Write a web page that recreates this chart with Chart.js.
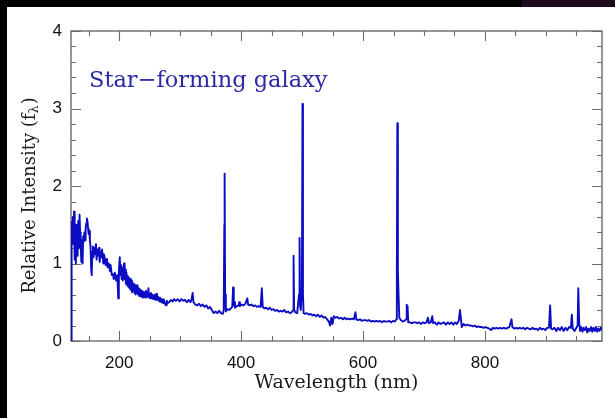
<!DOCTYPE html>
<html>
<head>
<meta charset="utf-8">
<script src="https://cdn.jsdelivr.net/npm/chart.js@4/dist/chart.umd.min.js"></script>
<style>
  html, body { margin: 0; padding: 0; background: #fff; }
  #wrap { width: 615px; height: 418px; }
</style>
</head>
<body>
<div id="wrap"><canvas id="c" width="615" height="418"></canvas></div>
<script>
// Spectrum of a star-forming galaxy: wavelength (nm) and relative flux f_lambda
const wavelength = [
  121.5, 122, 123, 124, 125, 126, 127, 128, 129, 130, 131, 132, 133, 134, 135, 136, 137, 138, 139, 140,
  141, 142, 143, 144, 145, 146, 147, 148, 149, 150, 151, 152, 153, 154, 155, 156, 157, 158, 159, 160,
  162, 163, 164, 166, 167, 168, 170, 171, 172, 174, 175, 177, 178, 180, 181, 183, 185, 186, 188, 190,
  191, 193, 195,
  197, 198.5, 199.5, 201, 202, 203, 204, 205, 206, 207,
  208, 209, 210, 211, 212, 213, 214, 215, 216, 217,
  218, 219, 220, 221, 222, 223, 224, 225, 226, 227,
  228, 229, 230, 231, 232, 233, 234, 235, 236, 237,
  238, 239, 240, 241, 242, 243, 244, 245, 246, 247,
  248, 249, 250, 251, 252, 253, 254, 256, 257, 258,
  259, 260, 262, 263, 264, 266, 267, 269, 270, 272,
  273, 275, 277, 278, 280,
  282, 285, 288, 290, 293, 296, 299, 302, 305, 308,
  311, 314, 317, 319, 320.5, 322, 325, 328, 331, 334, 337, 340, 343, 346, 349, 352, 355, 358, 361, 364,
  367, 370, 371.5, 372.5, 373, 373.8, 375, 377, 380, 383, 385.5, 386.9, 388, 389, 390, 393, 396, 397, 398, 401,
  404, 407, 410.2, 411.5, 414, 417, 420, 423, 426, 429, 432, 434, 435.5, 438, 441, 444, 447, 450, 453, 456,
  459, 462, 465, 468, 471, 474, 477, 480, 483, 485.3, 486.1, 487, 489, 492, 495, 495.9, 496.8, 498, 499.8, 500.7,
  501.5, 502.5, 505, 508, 511, 514, 517, 520, 523, 526, 529, 532, 535, 538, 541, 544, 546, 548, 550, 552,
  555, 558, 561, 564, 567, 570, 573, 576, 579, 582, 585, 587.6, 589, 592, 595, 598, 601, 604, 607, 610,
  613, 616, 619, 622, 625, 628, 631, 634, 637, 640, 643, 646, 649, 652, 654.8, 655.5, 656.3, 657.2, 658.4, 659.5,
  662, 665, 668, 670.8, 671.7, 672.6, 673.1, 674.2, 677, 680, 683, 686, 689, 692, 695, 698, 701, 704, 706.5, 708,
  711, 713.6, 715, 718, 721, 724, 727, 730, 733, 736, 739, 742, 745, 748, 751, 754, 757, 759, 760.5, 762,
  765, 768, 771, 774, 777, 780, 783, 786, 789, 792, 795, 798, 801, 804, 807, 810, 813, 816, 819, 822,
  825, 828, 831, 834, 837, 840, 843.6, 845, 848, 851, 854, 857, 860, 863, 866, 869, 872, 875, 878, 881,
  884, 887, 890, 893, 896, 899, 902, 905, 906.9, 908.5, 911, 914, 917, 920, 923, 926, 929, 932, 935, 938,
  941, 942.5, 944, 947, 950, 952, 953.1, 954.5, 956, 958, 960, 962, 964, 966, 968, 970, 972, 974, 976, 978,
  980, 982, 984, 986, 988, 990, 992
];
const flux = [
  0.00, 1.54, 1.30, 1.60, 1.25, 1.67, 1.05, 1.45, 1.00, 1.50, 1.10, 1.35, 1.55, 1.20, 1.63, 1.40, 1.20, 1.02, 1.30, 1.00,
  1.35, 1.28, 1.40, 1.30, 1.45, 1.52, 1.58, 1.55, 1.45, 1.38, 1.42, 1.30, 1.22, 0.95, 0.85, 1.15, 1.22, 1.08, 1.20, 1.12,
  1.25, 1.05, 1.18, 1.10, 1.20, 1.02, 1.15, 1.08, 1.18, 1.00, 1.12, 1.05, 0.98, 1.06, 0.95, 1.00, 0.90, 0.98, 0.85, 0.86,
  0.80, 0.88, 0.78,
  0.85, 0.55, 0.90, 1.08, 0.85, 0.98, 0.80, 0.94, 0.78, 0.95,
  1.00, 0.80, 0.92, 0.74, 0.88, 0.72, 0.84, 0.70, 0.82, 0.68,
  0.80, 0.66, 0.78, 0.63, 0.75, 0.65, 0.74, 0.62, 0.72, 0.60,
  0.70, 0.62, 0.72, 0.60, 0.68, 0.58, 0.67, 0.58, 0.65, 0.57,
  0.64, 0.56, 0.62, 0.57, 0.63, 0.56, 0.65, 0.58, 0.62, 0.57,
  0.68, 0.56, 0.61, 0.55, 0.62, 0.55, 0.60, 0.54, 0.59, 0.54,
  0.60, 0.53, 0.61, 0.53, 0.57, 0.51, 0.56, 0.50, 0.54, 0.49,
  0.54, 0.48, 0.46, 0.52, 0.49,
  0.50, 0.53, 0.51, 0.54, 0.52, 0.54, 0.51, 0.54, 0.52, 0.53,
  0.50, 0.53, 0.50, 0.54, 0.62, 0.50, 0.47, 0.46, 0.48, 0.45, 0.47, 0.44, 0.46, 0.42, 0.44, 0.40, 0.36, 0.38, 0.36, 0.39,
  0.36, 0.35, 0.40, 1.50, 2.16, 0.60, 0.38, 0.41, 0.40, 0.42, 0.44, 0.69, 0.46, 0.50, 0.43, 0.45, 0.46, 0.50, 0.45, 0.47,
  0.46, 0.48, 0.55, 0.47, 0.46, 0.47, 0.45, 0.46, 0.44, 0.45, 0.44, 0.68, 0.44, 0.42, 0.43, 0.41, 0.43, 0.40, 0.41, 0.39,
  0.40, 0.38, 0.39, 0.38, 0.40, 0.37, 0.38, 0.36, 0.37, 0.40, 1.10, 0.40, 0.37, 0.36, 0.60, 1.33, 0.45, 0.40, 0.70, 3.06,
  0.60, 0.36, 0.35, 0.36, 0.34, 0.35, 0.33, 0.34, 0.32, 0.34, 0.31, 0.33, 0.30, 0.31, 0.28, 0.25, 0.20, 0.30, 0.22, 0.32,
  0.30, 0.31, 0.29, 0.30, 0.28, 0.30, 0.28, 0.29, 0.28, 0.29, 0.28, 0.37, 0.28, 0.27, 0.28, 0.26, 0.27, 0.27, 0.26, 0.27,
  0.25, 0.26, 0.25, 0.26, 0.25, 0.26, 0.24, 0.26, 0.25, 0.25, 0.26, 0.24, 0.26, 0.25, 0.28, 0.87, 2.81, 0.90, 0.57, 0.30,
  0.27, 0.25, 0.26, 0.28, 0.47, 0.30, 0.45, 0.24, 0.24, 0.23, 0.24, 0.24, 0.23, 0.24, 0.22, 0.24, 0.23, 0.24, 0.30, 0.23,
  0.24, 0.32, 0.23, 0.24, 0.21, 0.24, 0.22, 0.23, 0.24, 0.21, 0.24, 0.22, 0.24, 0.21, 0.24, 0.22, 0.26, 0.40, 0.30, 0.18,
  0.22, 0.20, 0.21, 0.20, 0.20, 0.19, 0.20, 0.18, 0.19, 0.18, 0.18, 0.17, 0.18, 0.17, 0.16, 0.14, 0.17, 0.16, 0.17, 0.16,
  0.17, 0.16, 0.17, 0.16, 0.17, 0.18, 0.28, 0.18, 0.16, 0.17, 0.16, 0.17, 0.16, 0.17, 0.15, 0.17, 0.16, 0.15, 0.17, 0.15,
  0.16, 0.14, 0.17, 0.15, 0.16, 0.14, 0.17, 0.17, 0.46, 0.16, 0.15, 0.17, 0.13, 0.17, 0.14, 0.18, 0.13, 0.17, 0.14, 0.18,
  0.17, 0.34, 0.16, 0.13, 0.17, 0.20, 0.68, 0.25, 0.13, 0.18, 0.12, 0.17, 0.14, 0.18, 0.11, 0.16, 0.13, 0.18, 0.12, 0.17,
  0.13, 0.18, 0.12, 0.16, 0.13, 0.17, 0.14
];

// Axis ranges and labelled ticks
const xRange = [121, 992];
const yRange = [0, 4];
const xMajorTicks = [200, 400, 600, 800];
const xMinorStep = 50;
const yMajorTicks = [0, 1, 2, 3, 4];
const yMinorStep = 0.2;

const xTitle = 'Wavelength (nm)';
const yTitleMain = 'Relative Intensity (f';
const yTitleSub = '\u03bb';
const yTitleEnd = ')';
const panelLabel = 'Star\u2212forming galaxy';

const LINE_BLUE = '#0c0cc4';
const LABEL_BLUE = '#2a2aa6';
const FRAME = '#6b6b6b';

// Page background with the dark border strips
const backdrop = {
  id: 'backdrop',
  beforeDraw(chart) {
    const ctx = chart.ctx;
    ctx.save();
    ctx.fillStyle = '#ffffff';
    ctx.fillRect(0, 0, chart.width, chart.height);
    ctx.fillStyle = '#000000';
    ctx.fillRect(0, 0, chart.width, 7);
    ctx.fillRect(0, 0, 7, chart.height);
    ctx.fillStyle = '#1e0c1a';
    ctx.fillRect(522, 0, chart.width - 522, 7);
    ctx.restore();
  }
};

// Boxed frame with inward ticks on all four sides, plus the axis titles
const frame = {
  id: 'frame',
  beforeDatasetsDraw(chart) {
    const { ctx, chartArea: a, scales } = chart;
    const xs = scales.x, ys = scales.y;
    ctx.save();
    ctx.strokeStyle = FRAME;
    ctx.lineWidth = 1.4;
    ctx.strokeRect(a.left, a.top, a.right - a.left, a.bottom - a.top);
    ctx.lineWidth = 1.1;
    ctx.beginPath();
    for (let v = Math.ceil(xRange[0] / xMinorStep) * xMinorStep; v <= xRange[1]; v += xMinorStep) {
      const px = Math.round(xs.getPixelForValue(v)) + 0.5;
      const len = xMajorTicks.includes(v) ? 10 : 5;
      ctx.moveTo(px, a.bottom); ctx.lineTo(px, a.bottom - len);
      ctx.moveTo(px, a.top); ctx.lineTo(px, a.top + len);
    }
    for (let i = 0; i <= Math.round((yRange[1] - yRange[0]) / yMinorStep); i++) {
      const v = yRange[0] + i * yMinorStep;
      const py = Math.round(ys.getPixelForValue(v)) + 0.5;
      const len = i % 5 === 0 ? 10 : 5;
      ctx.moveTo(a.left, py); ctx.lineTo(a.left + len, py);
      ctx.moveTo(a.right, py); ctx.lineTo(a.right - len, py);
    }
    ctx.stroke();
    ctx.restore();
  },
  afterDraw(chart) {
    const { ctx, chartArea: a } = chart;
    ctx.save();
    ctx.fillStyle = '#1a1a1a';
    ctx.font = '19px "DejaVu Serif"';
    ctx.textAlign = 'center';
    ctx.textBaseline = 'middle';
    ctx.fillText(xTitle, (a.left + a.right) / 2, 383);
    // rotated y title with a subscript lambda
    ctx.translate(30, 196);
    ctx.rotate(-Math.PI / 2);
    ctx.textAlign = 'left';
    ctx.textBaseline = 'middle';
    const mainFont = '18px "DejaVu Serif"';
    const subFont = '13px "DejaVu Serif"';
    ctx.font = mainFont;
    const w1 = ctx.measureText(yTitleMain).width;
    const w3 = ctx.measureText(yTitleEnd).width;
    ctx.font = subFont;
    const w2 = ctx.measureText(yTitleSub).width;
    const x0 = -(w1 + w2 + w3) / 2;
    ctx.font = mainFont;
    ctx.fillText(yTitleMain, x0, 0);
    ctx.font = subFont;
    ctx.fillText(yTitleSub, x0 + w1, 5);
    ctx.font = mainFont;
    ctx.fillText(yTitleEnd, x0 + w1 + w2 + 1, 0);
    ctx.restore();
    // panel label
    ctx.save();
    ctx.fillStyle = LABEL_BLUE;
    ctx.font = '22.5px "DejaVu Serif"';
    ctx.textAlign = 'left';
    ctx.textBaseline = 'middle';
    ctx.fillText(panelLabel, 89, 81);
    ctx.restore();
  }
};

const points = wavelength.map((w, i) => ({ x: w, y: flux[i] }));
const tickFont = { family: '"Liberation Sans", Arial, sans-serif', size: 17 };

new Chart(document.getElementById('c'), {
  type: 'scatter',
  data: {
    datasets: [{
      data: points,
      showLine: true,
      borderColor: LINE_BLUE,
      backgroundColor: LINE_BLUE,
      borderWidth: 1.9,
      pointRadius: 0,
      tension: 0,
      borderJoinStyle: 'round'
    }]
  },
  options: {
    responsive: false,
    animation: false,
    devicePixelRatio: 1,
    layout: { padding: { left: 0, top: 31, right: 13, bottom: 0 } },
    plugins: { legend: { display: false }, tooltip: { enabled: false }, title: { display: false } },
    scales: {
      x: {
        type: 'linear',
        min: xRange[0],
        max: xRange[1],
        grid: { display: false, drawTicks: false },
        border: { display: false },
        ticks: { font: tickFont, color: '#111', padding: 12, maxRotation: 0, includeBounds: false },
        afterBuildTicks: s => { s.ticks = xMajorTicks.map(v => ({ value: v })); },
        afterFit: s => { s.height = 77; }
      },
      y: {
        type: 'linear',
        min: yRange[0],
        max: yRange[1],
        grid: { display: false, drawTicks: false },
        border: { display: false },
        ticks: { font: tickFont, color: '#111', padding: 9, includeBounds: false },
        afterBuildTicks: s => { s.ticks = yMajorTicks.map(v => ({ value: v })); },
        afterFit: s => { s.width = 71; }
      }
    }
  },
  plugins: [backdrop, frame]
});
</script>
</body>
</html>
